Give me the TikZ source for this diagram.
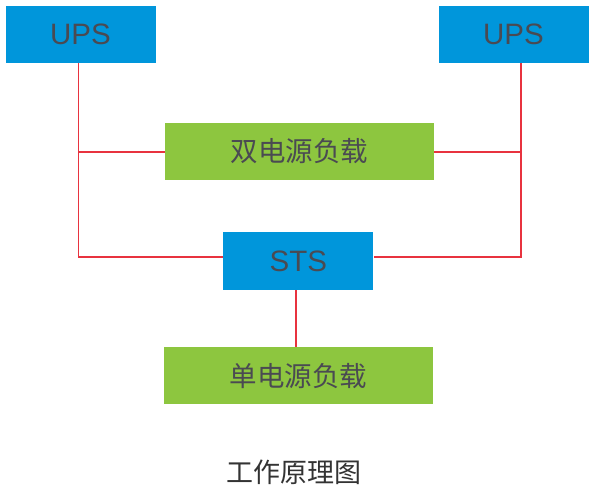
\documentclass[tikz,border=0pt]{standalone}
\usepackage{fontspec}
\setmainfont{Liberation Sans}
\newfontfamily\cjk{Noto Sans CJK SC}
\usetikzlibrary{positioning}
\definecolor{upsblue}{HTML}{0096DB}
\definecolor{loadgreen}{HTML}{8DC63F}
\definecolor{linered}{HTML}{E8333F}
\definecolor{txtgray}{HTML}{4A4A52}

\begin{document}
\begin{tikzpicture}[x=1pt, y=-1pt, font=\fontsize{29.5}{31}\selectfont, node distance=57pt]
\tikzstyle{unit}=[fill=upsblue, text=txtgray, minimum width=150pt, minimum height=57pt, inner sep=0pt]
\tikzstyle{load}=[fill=loadgreen, text=txtgray, minimum width=269pt, minimum height=57pt, inner sep=0pt, font=\cjk\fontsize{27.5}{29}\selectfont]
\tikzstyle{wire}=[draw=linered, line width=1.6pt]
\useasboundingbox (0,0) rectangle (597,493);
\node[unit] (ups1) at (80.5,34.5) {UPS};
\node[unit] (ups2) at (513.5,34.5) {UPS};
\node[load] (dual) at (299.3,151.5) {双电源负载};
\node[unit, minimum height=58pt] (sts) at (298.3,261) {STS};
\node[load, below=57pt of sts] (single) {单电源负载};
\node[font=\cjk\fontsize{27}{29}\selectfont, text=black!80] (cap) at (294,472) {工作原理图};
% wiring
\draw[wire] (ups1.south -| 78.5,0) |- ([yshift=4pt]sts.west);
\draw[wire] (ups2.south -| 521,0) |- ([yshift=4pt]sts.east);
\draw[wire] ([yshift=-0.5pt]dual.west) -- ([yshift=-0.5pt]dual.west -| 78.5,0);
\draw[wire] ([yshift=-0.5pt]dual.east) -- ([yshift=-0.5pt]dual.east -| 521,0);
\draw[wire] (sts.south -| 296,0) -- (single.north -| 296,0);
\end{tikzpicture}
\end{document}
